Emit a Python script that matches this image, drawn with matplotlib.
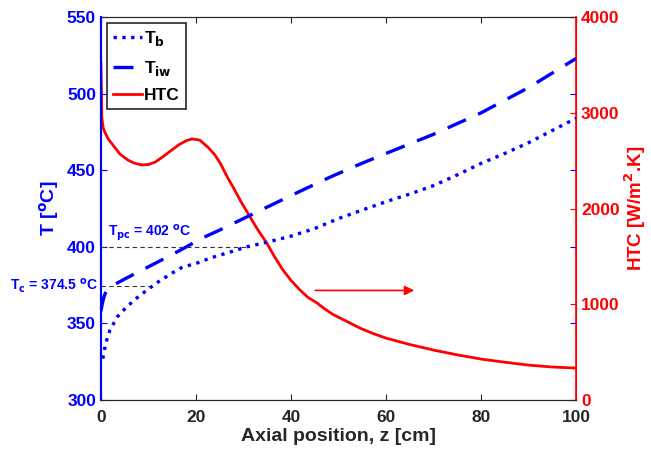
import numpy as np
import matplotlib.pyplot as plt

plt.rcParams['font.family'] = ['Liberation Sans', 'DejaVu Sans']
plt.rcParams['font.weight'] = 'bold'
plt.rcParams['mathtext.default'] = 'bf'

# Bulk temperature T_b [C] vs z [cm]
z_tb = [0.4, 1.0, 1.9, 3.5, 5.4, 7.5, 9.7, 12.0, 14.5, 17.0, 20.8, 23.0, 26.0, 30.7,
        34.9, 40.0, 45.0, 50.0, 54.5, 60.0, 65.0, 70.0, 75.0, 80.0, 85.0, 90.0, 95.0, 100.0]
t_b = [327.0, 337.0, 345.7, 354.5, 360.7, 366.5, 371.8, 377.0, 382.0, 386.5, 390.0,
       392.7, 395.5, 400.0, 403.0, 407.0, 412.0, 418.5, 423.5, 429.5, 434.5, 440.0,
       447.0, 454.5, 461.0, 468.0, 476.0, 484.0]

# Inner wall temperature T_iw [C]
z_tiw = [0.0, 0.3, 0.7, 1.2, 2.0, 5.0, 10.0, 15.0, 18.0, 20.8, 25.0, 32.0, 40.0, 48.2,
         54.5, 60.0, 70.0, 80.0, 90.0, 100.0]
t_iw = [358.0, 363.0, 368.0, 371.5, 374.0, 379.0, 387.0, 395.0, 400.0, 405.0, 411.0,
        421.5, 433.5, 445.5, 454.0, 461.0, 473.5, 487.5, 504.0, 523.0]

# Heat transfer coefficient [W/m2.K]
z_htc = [0.0, 0.1, 0.2, 0.5, 0.8, 1.5, 2.9, 4.0, 5.7, 7.0, 8.6, 10.0, 11.4, 13.0,
         14.9, 16.5, 18.0, 19.2, 20.8, 22.5, 24.0, 25.1, 26.7, 27.8, 29.5, 31.4, 33.0,
         34.9, 36.5, 38.3, 40.0, 41.9, 43.5, 45.5, 47.0, 48.8, 51.0, 54.5, 57.0, 60.0,
         65.0, 70.0, 75.0, 80.0, 85.0, 90.0, 95.0, 100.0]
htc = [3520, 3250, 2950, 2840, 2800, 2730, 2640, 2570, 2506, 2475, 2456, 2460, 2485,
       2540, 2611, 2670, 2710, 2728, 2715, 2642, 2560, 2475, 2320, 2225, 2070, 1911,
       1780, 1640, 1500, 1358, 1250, 1149, 1075, 1013, 955, 895, 840, 752, 700, 647,
       580, 522, 472, 428, 395, 365, 345, 334]

tpc_end = 30.7   # where T_b reaches 400
tc_end = 10.3    # where T_b reaches 374.5

fig = plt.figure(figsize=(6.51, 4.5), dpi=100)
ax1 = fig.add_axes([0.155, 0.111, 0.73, 0.851])
ax2 = ax1.twinx()

l1, = ax1.plot(z_tb, t_b, color='blue', linestyle=':', linewidth=2.4)
l2, = ax1.plot(z_tiw, t_iw, color='blue', linestyle=(0, (6, 4)), linewidth=2.4)
ax1.plot([0, tpc_end], [400, 400], color='#333333', linewidth=0.8, dashes=(4, 3))
ax1.plot([0, tc_end], [374.5, 374.5], color='#333333', linewidth=0.8, dashes=(4, 3))
hl, = ax2.plot(z_htc, htc, color='red', linewidth=2.0)

ax1.set_xlim(0, 100)
ax1.set_ylim(300, 550)
ax2.set_ylim(0, 4000)
ax1.set_xticks([0, 20, 40, 60, 80, 100])
ax1.set_yticks([300, 350, 400, 450, 500, 550])
ax2.set_yticks([0, 1000, 2000, 3000, 4000])

ax1.tick_params(axis='x', direction='in', top=True, labelsize=12.5, colors='#262626',
                length=4, pad=7)
ax1.tick_params(axis='y', direction='in', right=True, labelsize=12.5, colors='blue', length=4)
ax2.tick_params(axis='y', direction='in', labelsize=12.5, colors='red', length=4)

ax1.spines['left'].set_color('blue')
ax1.spines['left'].set_linewidth(1.5)
ax2.spines['left'].set_color('blue')
ax2.spines['left'].set_linewidth(1.5)
ax2.spines['right'].set_color('red')
ax2.spines['right'].set_linewidth(1.2)
ax1.spines['right'].set_color('red')
for s in ['top', 'bottom']:
    ax1.spines[s].set_color('#262626')
    ax2.spines[s].set_color('#262626')

ax1.set_xlabel('Axial position, z [cm]', fontsize=14, fontweight='bold', color='#262626',
               labelpad=2)
ax1.set_ylabel(r'T [$^o$C]', fontsize=14, fontweight='bold', color='blue', labelpad=4)
ax2.set_ylabel(r'HTC [W/m$^2$.K]', fontsize=13.5, fontweight='bold', color='red', labelpad=2)

ax1.text(1.5, 402.5, r'T$_{pc}$ = 402 $^o$C', color='blue', fontsize=10,
         fontweight='bold', ha='left', va='bottom')
ax1.text(-0.6, 374.5, r'T$_c$ = 374.5 $^o$C', color='blue', fontsize=10,
         fontweight='bold', ha='right', va='center', clip_on=False)

ax2.annotate('', xy=(66.5, 1145), xytext=(44.5, 1145),
             arrowprops=dict(arrowstyle='-|>', color='red', lw=1.2, mutation_scale=14))

leg = ax1.legend([l1, l2, hl], [r'T$_b$', r'T$_{iw}$', 'HTC'], loc='upper left',
                 bbox_to_anchor=(0.0126, 0.984), borderaxespad=0, fancybox=False,
                 edgecolor='#262626', fontsize=12.5, handlelength=1.7, handletextpad=0.1,
                 borderpad=0.35, labelspacing=0.6, framealpha=1)
leg.get_frame().set_linewidth(1.2)
ax1.set_zorder(ax2.get_zorder() + 1)
ax1.patch.set_visible(False)

plt.savefig('out.png', dpi=100)
plt.close()
